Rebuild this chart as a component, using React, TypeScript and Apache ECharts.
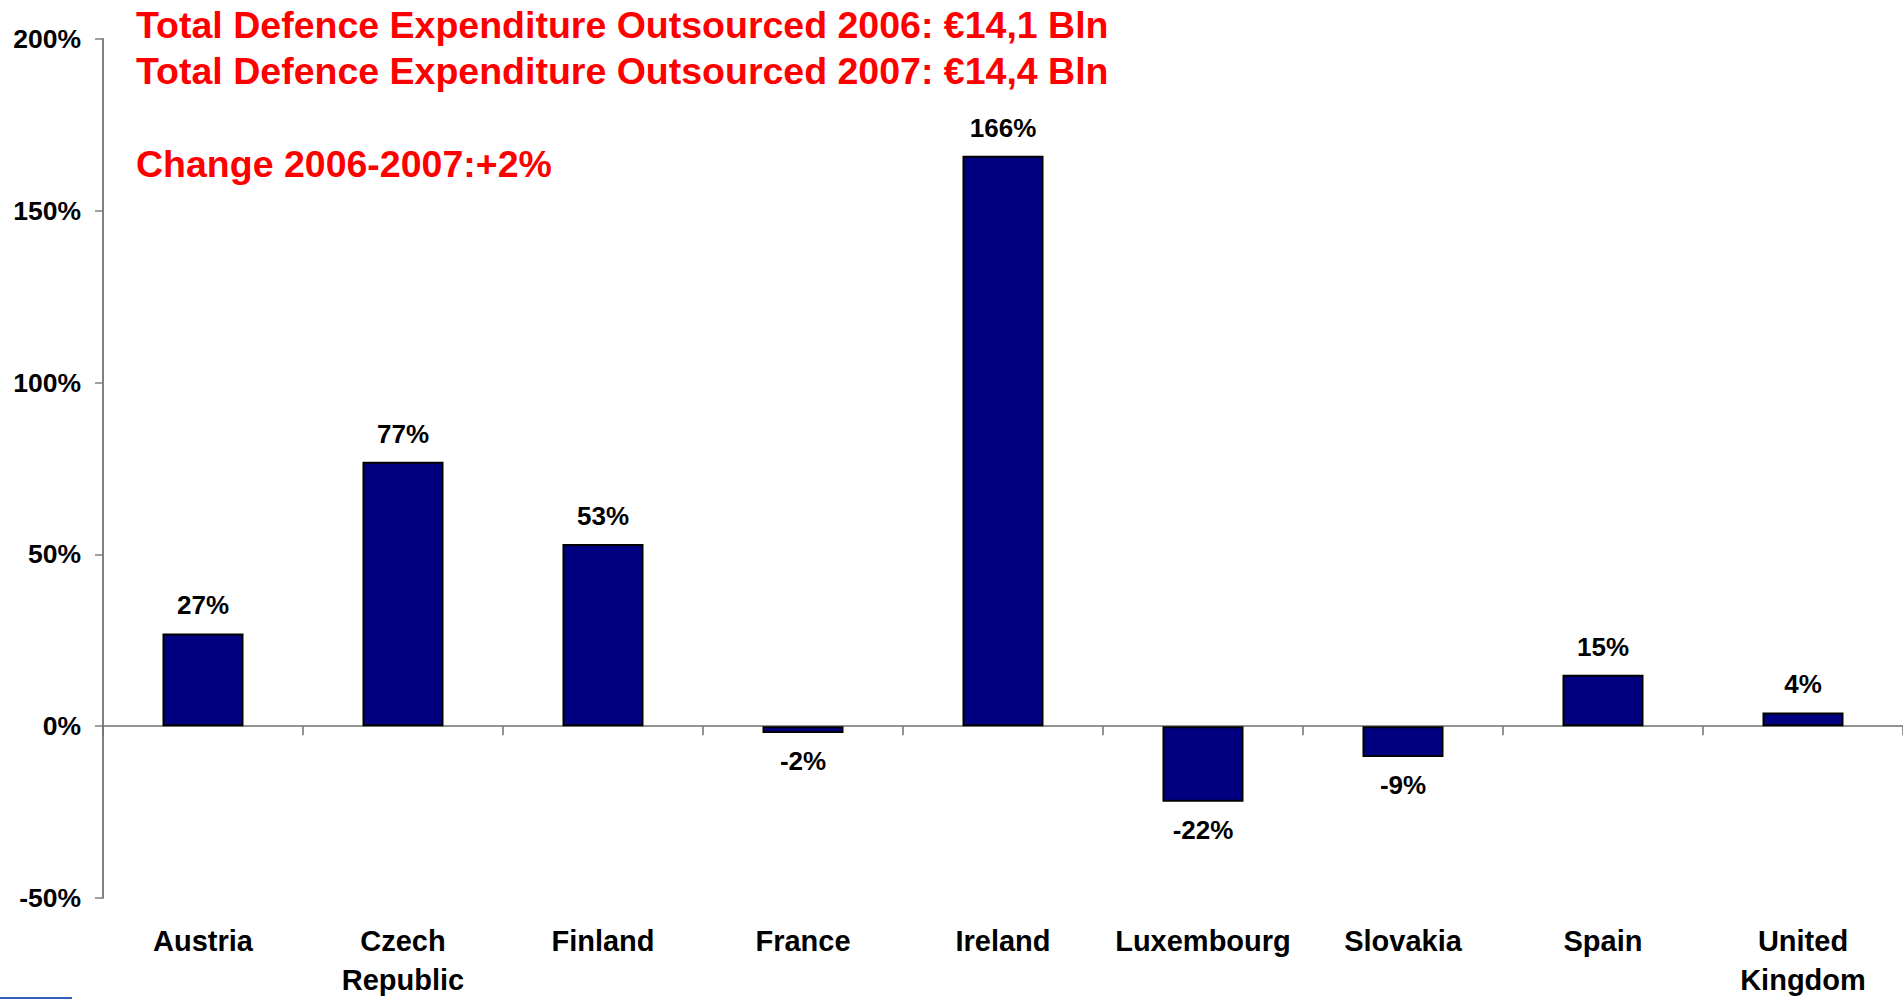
import React, { useEffect, useRef } from "react";
import * as echarts from "echarts";

const categories = [
  "Austria",
  "Czech\nRepublic",
  "Finland",
  "France",
  "Ireland",
  "Luxembourg",
  "Slovakia",
  "Spain",
  "United\nKingdom",
];
const changePct = [27, 77, 53, -2, 166, -22, -9, 15, 4];
const yMin = -50;
const yMax = 200;
const yStep = 50;
const titleLines = [
  "Total Defence Expenditure Outsourced 2006: €14,1 Bln",
  "Total Defence Expenditure Outsourced 2007: €14,4 Bln",
  "Change 2006-2007:+2%",
];

const FONT = '"Liberation Sans", Arial, Helvetica, sans-serif';

export default function App() {
  const ref = useRef<HTMLDivElement>(null);

  useEffect(() => {
    if (!ref.current) return;
    const chart = echarts.init(ref.current, null, { renderer: "svg" });

    const data = changePct.map((v) => ({
      value: v,
      label: { position: v < 0 ? "bottom" : "top" },
    }));

    const titleY = [25, 71, 164];

    chart.setOption({
      animation: false,
      backgroundColor: "#ffffff",
      grid: { left: 103, right: 0, top: 39, bottom: 97.5, containLabel: false },
      xAxis: [
        {
          type: "category",
          data: categories,
          position: "bottom",
          boundaryGap: true,
          axisLine: { show: true, onZero: true, lineStyle: { color: "#707070", width: 1.5 } },
          axisTick: { show: true, length: 9, alignWithLabel: false, lineStyle: { color: "#707070", width: 1.5 } },
          axisLabel: { show: false },
          splitLine: { show: false },
        },
        {
          type: "category",
          data: categories,
          position: "bottom",
          boundaryGap: true,
          axisLine: { show: false, onZero: false },
          axisTick: { show: false },
          splitLine: { show: false },
          axisLabel: {
            show: true,
            interval: 0,
            margin: 23,
            color: "#000000",
            fontFamily: FONT,
            fontWeight: "bold",
            fontSize: 29,
            lineHeight: 39,
          },
        },
      ],
      yAxis: {
        type: "value",
        min: yMin,
        max: yMax,
        interval: yStep,
        axisLine: { show: true, lineStyle: { color: "#808080", width: 2 } },
        axisTick: { show: true, length: 8, lineStyle: { color: "#808080", width: 1.5 } },
        splitLine: { show: false },
        axisLabel: {
          formatter: "{value}%",
          margin: 22,
          color: "#000000",
          fontFamily: FONT,
          fontWeight: "bold",
          fontSize: 26.5,
        },
      },
      series: [
        {
          type: "bar",
          xAxisIndex: 0,
          yAxisIndex: 0,
          data,
          barWidth: 81,
          itemStyle: { color: "#000080", borderColor: "#000000", borderWidth: 2 },
          label: {
            show: true,
            distance: 15,
            formatter: (p: any) => `${p.value}%`,
            color: "#000000",
            fontFamily: FONT,
            fontWeight: "bold",
            fontSize: 26,
          },
        },
      ],
      graphic: [
        ...titleLines.map((t, i) => ({
          type: "text",
          x: 136,
          y: titleY[i],
          silent: true,
          style: {
            text: t,
            fill: "#ff0000",
            fontFamily: FONT,
            fontWeight: "bold",
            fontSize: 37.5,
            verticalAlign: "middle",
            align: "left",
          },
        })),
        {
          type: "line",
          silent: true,
          shape: { x1: 0, y1: 998, x2: 72, y2: 998 },
          style: { stroke: "#2f62b8", lineWidth: 2 },
        },
      ],
    });

    return () => chart.dispose();
  }, []);

  return (
    <div
      ref={ref}
      style={{ position: "fixed", left: 0, top: 0, width: 1903, height: 999, background: "#fff" }}
    />
  );
}
